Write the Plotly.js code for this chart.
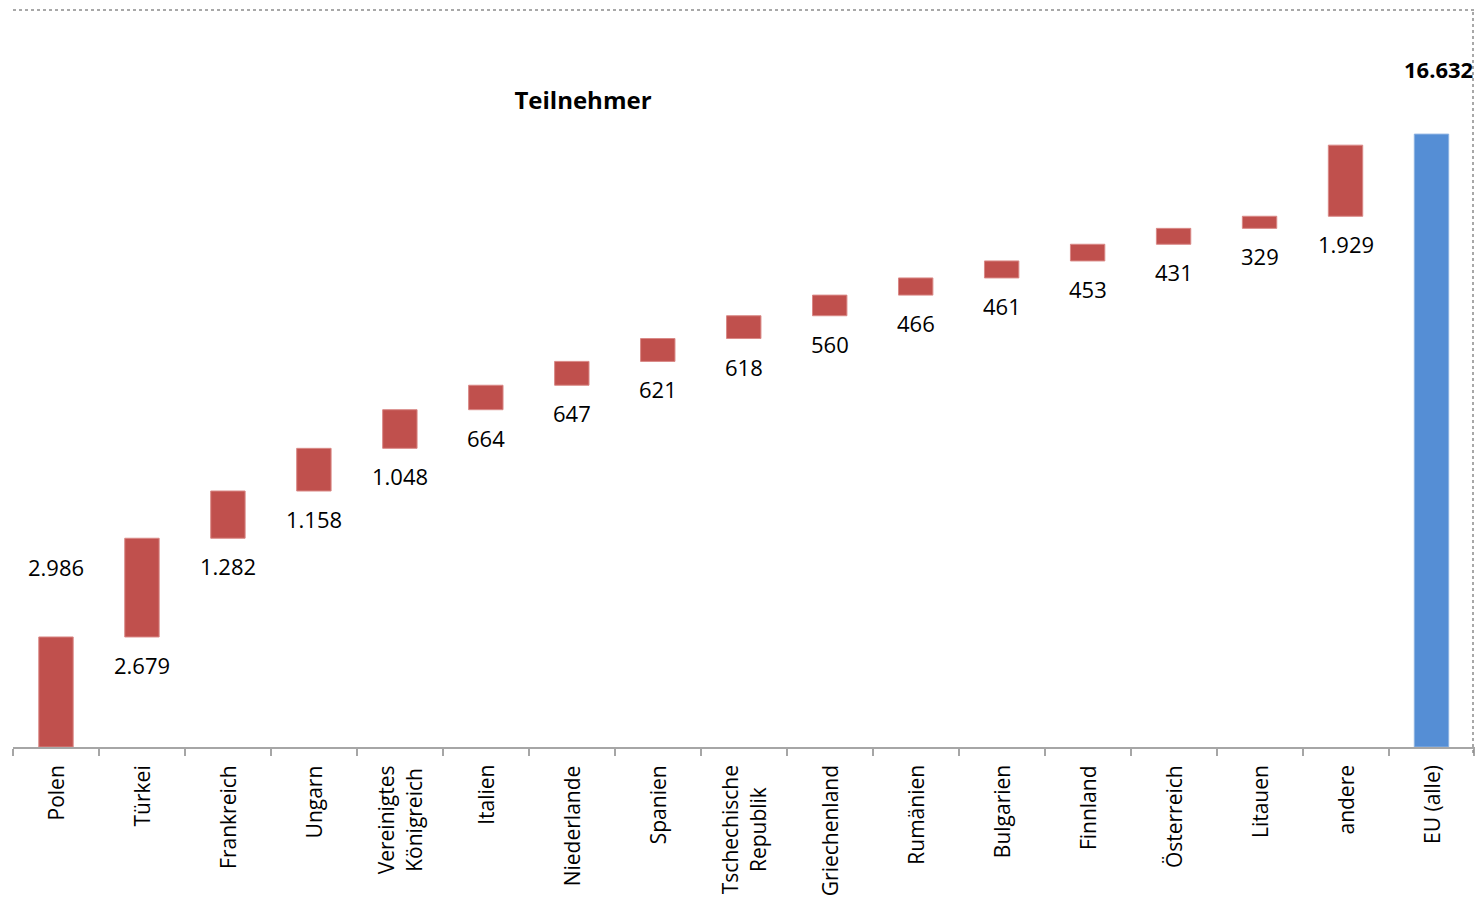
<!DOCTYPE html>
<html>
<head>
<meta charset="utf-8">
<script src="https://cdn.plot.ly/plotly-3.0.1.min.js"></script>
<style>html,body{margin:0;padding:0;background:#fff;}#chart{width:1483px;height:906px;}</style>
</head>
<body>
<div id="chart"></div>
<script>
const categories = ["Polen","Türkei","Frankreich","Ungarn","Vereinigtes<br>Königreich","Italien","Niederlande","Spanien","Tschechische<br>Republik","Griechenland","Rumänien","Bulgarien","Finnland","Österreich","Litauen","andere","EU (alle)"];
const values = [2986,2679,1282,1158,1048,664,647,621,618,560,466,461,453,431,329,1929,16632];
const measures = ["relative","relative","relative","relative","relative","relative","relative","relative","relative","relative","relative","relative","relative","relative","relative","relative","absolute"];
const labels = ["2.986","2.679","1.282","1.158","1.048","664","647","621","618","560","466","461","453","431","329","1.929","16.632"];

const RED = "#C0504D", BLUE = "#558ED5";
const FONT = "Open Sans, sans-serif";

const trace = {
  type: "waterfall",
  x: categories,
  y: values,
  measure: measures,
  width: 0.4,
  textposition: "none",
  hoverinfo: "skip",
  connector: {visible: false},
  increasing: {marker: {color: RED, line: {color: "#D98886", width: 1}}},
  decreasing: {marker: {color: RED}},
  totals: {marker: {color: BLUE, line: {color: "#8DB3E2", width: 1}}}
};

const annotations = [];
// value labels computed from the data
let cum = 0;
for (let i = 0; i < values.length; i++) {
  let yv, ys, bold = false;
  if (measures[i] === "absolute") {
    yv = values[i]; ys = 65; bold = true;
  } else if (i === 0) {
    yv = cum + values[i]; ys = 70;
    cum += values[i];
  } else {
    yv = cum; ys = -28;
    cum += values[i];
  }
  annotations.push({
    x: categories[i], y: yv, xref: "x", yref: "y",
    text: bold ? "<b>" + labels[i] + "</b>" : labels[i],
    showarrow: false, xanchor: "center", yanchor: "middle", yshift: ys,
    xshift: bold ? 7 : 0,
    font: {family: FONT, size: 22, color: "#000"}
  });
}
// category labels (rotated, lines centred)
for (let i = 0; i < categories.length; i++) {
  annotations.push({
    x: categories[i], y: 0, xref: "x", yref: "paper",
    text: categories[i], textangle: -90, align: "center",
    showarrow: false, xanchor: "center", yanchor: "top", yshift: -16,
    font: {family: FONT, size: 21, color: "#000"}
  });
}

const layout = {
  width: 1483, height: 906,
  margin: {l: 13, r: 8, t: 10, b: 159},
  paper_bgcolor: "#fff", plot_bgcolor: "#fff",
  showlegend: false,
  title: {
    text: "<b>Teilnehmer</b>",
    x: 583/1483, xref: "container", xanchor: "center",
    y: 1 - 101/906, yref: "container", yanchor: "middle",
    font: {family: FONT, size: 24, color: "#000"}
  },
  xaxis: {
    type: "category",
    showgrid: false, zeroline: false,
    showline: true, linecolor: "#A6A6A6", linewidth: 2,
    ticks: "outside", tickson: "boundaries", ticklen: 7, tickcolor: "#A6A6A6", tickwidth: 2,
    showticklabels: false,
    fixedrange: true
  },
  yaxis: {
    range: [0, 20000],
    showgrid: false, zeroline: false, showline: false,
    showticklabels: false, ticks: "",
    fixedrange: true
  },
  annotations: annotations,
  shapes: [
    {type: "line", xref: "paper", yref: "paper", x0: 0, x1: 1, y0: 1, y1: 1,
     line: {color: "#8C8C8C", width: 1.5, dash: "dot"}},
    {type: "line", xref: "paper", yref: "paper", x0: 1 - 2/1462, x1: 1 - 2/1462, y0: -0.008, y1: 1,
     line: {color: "#8C8C8C", width: 1.5, dash: "dot"}}
  ]
};

Plotly.newPlot("chart", [trace], layout, {displayModeBar: false, staticPlot: true});
</script>
</body>
</html>
